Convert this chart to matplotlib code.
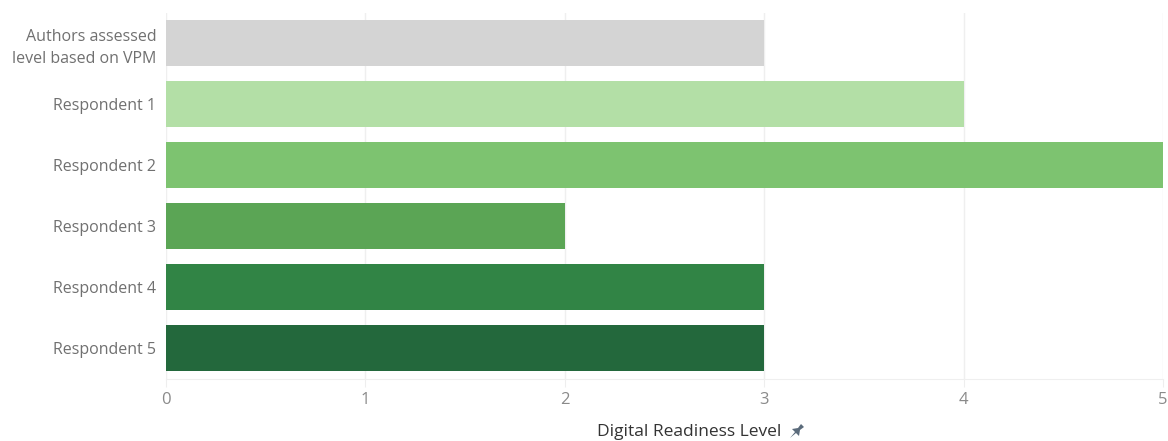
import matplotlib
matplotlib.use("Agg")
import matplotlib.pyplot as plt
from matplotlib.patches import Polygon

categories = ["Authors assessed\nlevel based on VPM", "Respondent 1", "Respondent 2",
              "Respondent 3", "Respondent 4", "Respondent 5"]
levels = [3, 4, 5, 2, 3, 3]
bar_colors = ["#d4d4d4", "#b3dfa6", "#7dc370", "#5ba555", "#318445", "#23683c"]
x_ticks = [0, 1, 2, 3, 4, 5]
x_title = "Digital Readiness Level"

plt.rcParams["font.family"] = ["Open Sans", "DejaVu Sans"]

W, H = 1168, 441
fig = plt.figure(figsize=(W / 100, H / 100), dpi=100)
ax = fig.add_axes([166 / W, 1 - 378.5 / H, (1163 - 166) / W, (378.5 - 12.5) / H])

y = list(range(len(categories)))
ax.barh(y, levels, height=0.754, color=bar_colors, zorder=2)

ax.set_xlim(0, 5)
ax.set_ylim(len(categories) - 0.5, -0.5)
ax.set_xticks(x_ticks)
ax.set_xticklabels([str(t) for t in x_ticks], color="#8a8a8a", fontsize=12)
ax.set_yticks(y)
ax.set_yticklabels(categories, color="#707070", fontsize=11.5, linespacing=1.5)
ax.tick_params(axis="y", length=0, pad=7)
ax.tick_params(axis="x", length=6, color="#eeeeee", pad=4)

ax.grid(axis="x", color="#efefef", linewidth=1, zorder=0)
for s in ["top", "right", "left"]:
    ax.spines[s].set_visible(False)
ax.spines["bottom"].set_color("#efefef")

fig.text(689 / W, 1 - 432 / H, x_title, ha="center", va="center",
         fontsize=12.5, color="#333333")

# small pin icon beside the axis title
cx, cy = 796, 432
pin = [(cx - 6, cy + 6), (cx - 1, cy + 0), (cx - 4, cy - 3), (cx + 2, cy - 4),
       (cx + 5, cy - 8), (cx + 8, cy - 5), (cx + 4, cy - 2), (cx + 3, cy + 4),
       (cx + 0, cy + 1)]
fig.patches.append(Polygon([(px / W, 1 - py / H) for px, py in pin], closed=True,
                           transform=fig.transFigure, facecolor="#5b6b7b",
                           edgecolor="none"))

fig.savefig("out.png", dpi=100)
